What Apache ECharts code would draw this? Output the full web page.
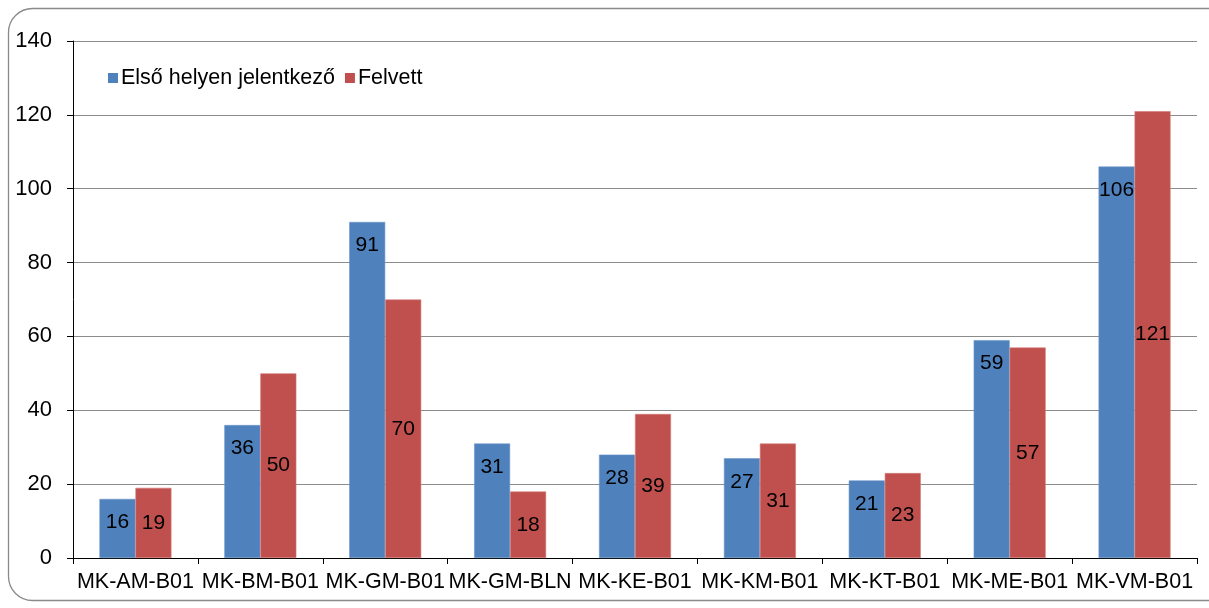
<!DOCTYPE html>
<html>
<head>
<meta charset="utf-8">
<script src="https://cdn.jsdelivr.net/npm/echarts@6/dist/echarts.min.js"></script>
<style>
  html, body { margin: 0; padding: 0; background: #ffffff; }
  #chart { width: 1209px; height: 608px; }
</style>
</head>
<body>
<div id="chart"></div>
<script>
// Szakok és jelentkezési adatok
const categories = ['MK-AM-B01', 'MK-BM-B01', 'MK-GM-B01', 'MK-GM-BLN', 'MK-KE-B01', 'MK-KM-B01', 'MK-KT-B01', 'MK-ME-B01', 'MK-VM-B01'];
const elsoHelyen = [16, 36, 91, 31, 28, 27, 21, 59, 106];
const felvett = [19, 50, 70, 18, 39, 31, 23, 57, 121];
const yTicks = [0, 20, 40, 60, 80, 100, 120, 140];

const FONT = '"Liberation Sans", Arial, sans-serif';
const chart = echarts.init(document.getElementById('chart'), null, { renderer: 'canvas' });

chart.setOption({
  animation: false,
  backgroundColor: '#ffffff',
  graphic: [{
    type: 'rect',
    shape: { x: 8.5, y: 8.5, width: 1240, height: 592, r: 24 },
    style: { fill: 'none', stroke: '#8a8a8a', lineWidth: 1.3 },
    z: -1
  }],
  legend: {
    left: 103,
    top: 62,
    itemWidth: 10,
    itemHeight: 10,
    itemGap: 10,
    icon: 'rect',
    itemStyle: { borderWidth: 0 },
    textStyle: { fontFamily: FONT, fontSize: 21.5, color: '#000', padding: [0, 0, 0, -2] },
    data: ['Első helyen jelentkező', 'Felvett']
  },
  grid: { left: 73, right: 12, top: 41, bottom: 50, containLabel: false },
  xAxis: {
    type: 'category',
    data: categories,
    axisLine: { lineStyle: { color: '#000', width: 1 } },
    axisTick: { show: true, length: 6, lineStyle: { color: '#000' } },
    axisLabel: { fontFamily: FONT, fontSize: 21.5, color: '#000', margin: 13, interval: 0 }
  },
  yAxis: {
    type: 'value',
    min: yTicks[0],
    max: yTicks[yTicks.length - 1],
    interval: 20,
    axisLine: { show: true, lineStyle: { color: '#000', width: 1 } },
    axisTick: { show: true, length: 6, lineStyle: { color: '#000' } },
    axisLabel: { fontFamily: FONT, fontSize: 22, color: '#000', margin: 21 },
    splitLine: { lineStyle: { color: '#8c8c8c', width: 1 } }
  },
  series: [
    {
      name: 'Első helyen jelentkező',
      type: 'bar',
      data: elsoHelyen,
      barWidth: 36,
      barGap: '0%',
      itemStyle: { color: '#4F81BD', borderColor: '#6f97c9', borderWidth: 0.6 },
      label: { show: true, position: 'insideTop', distance: 13, fontFamily: FONT, fontSize: 21, color: '#000' }
    },
    {
      name: 'Felvett',
      type: 'bar',
      data: felvett,
      barWidth: 36,
      barGap: '0%',
      itemStyle: { color: '#C0504D', borderColor: '#d07a77', borderWidth: 0.6 },
      label: { show: true, position: 'inside', fontFamily: FONT, fontSize: 21, color: '#000' }
    }
  ]
});
</script>
</body>
</html>
